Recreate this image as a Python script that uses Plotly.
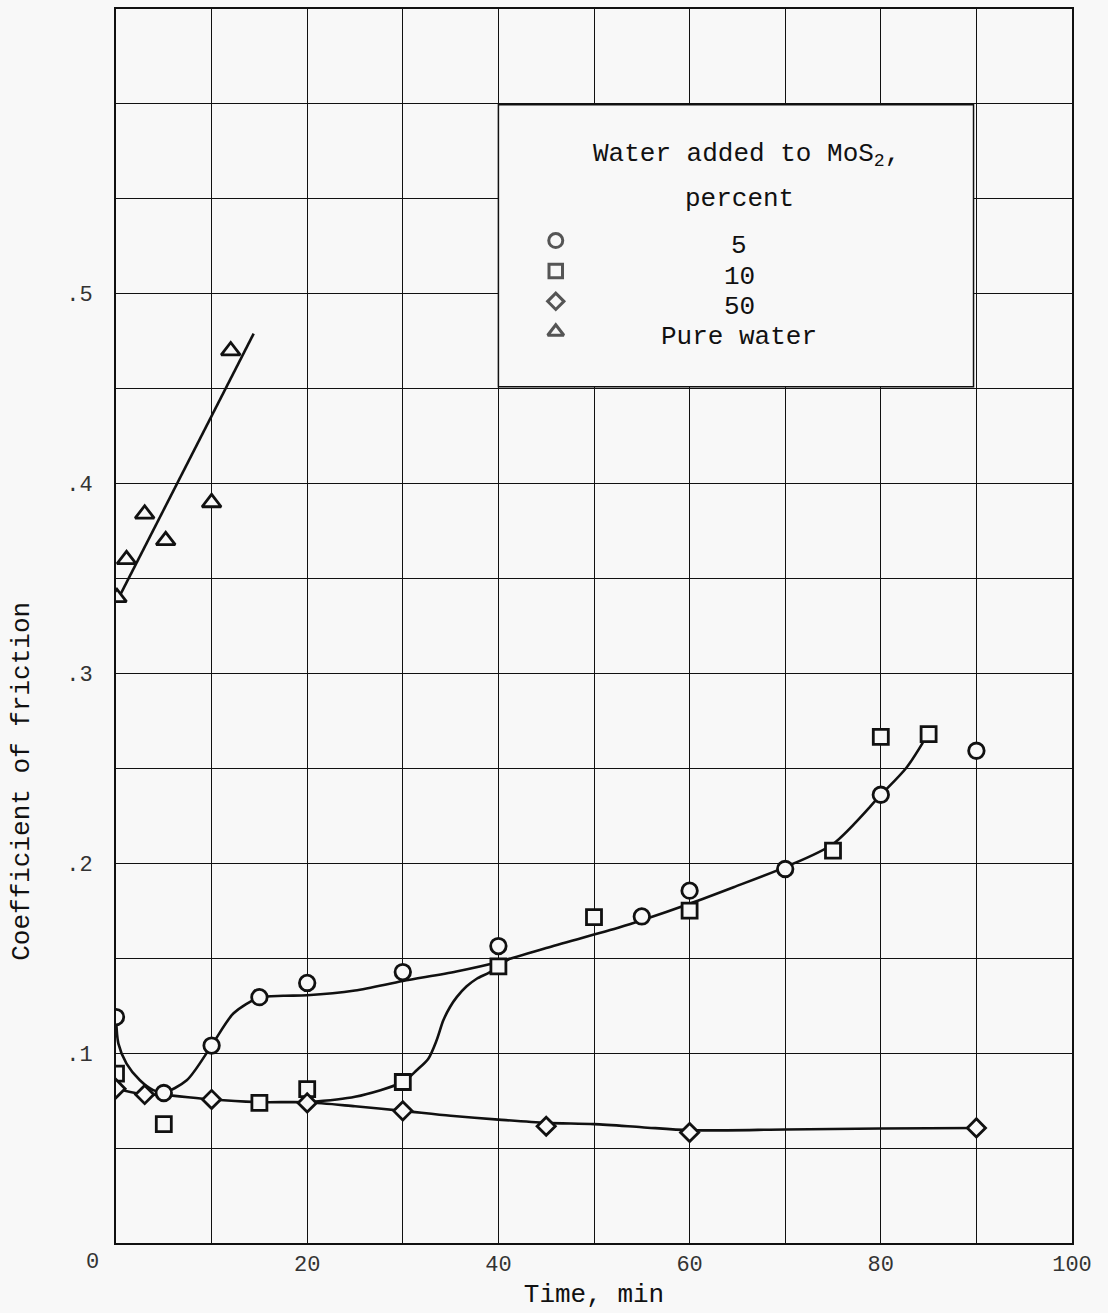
import plotly.graph_objects as go

# ---------------- data ----------------
# measured points: time (min) and coefficient of friction
t5 = [0, 5, 10, 15, 20, 30, 40, 55, 60, 70, 80, 90]
f5 = [0.119, 0.079, 0.104, 0.1295, 0.137, 0.1427, 0.1564, 0.172, 0.1856, 0.197, 0.2361, 0.2593]

t10 = [0, 5, 15, 20, 30, 40, 50, 60, 75, 80, 85]
f10 = [0.0892, 0.0626, 0.0738, 0.081, 0.0848, 0.1457, 0.1716, 0.1751, 0.2067, 0.2666, 0.268]

t50 = [0, 3, 10, 20, 30, 45, 60, 90]
f50 = [0.0813, 0.0782, 0.0756, 0.0738, 0.0696, 0.0615, 0.0582, 0.0606]

tw = [0.1, 1.1, 3.0, 5.2, 10.0, 12.0]
fw = [0.340, 0.360, 0.384, 0.370, 0.390, 0.470]

# faired curves as drawn on the chart
c5_t = [0, 0.25, 1.1, 2.5, 3.9, 5, 7.4, 10, 12.3, 15, 17.5, 20, 25, 30, 35.6, 40, 45,
        52.7, 55, 60, 64.6, 70, 75, 80, 82.7, 84.4]
c5_f = [0.119, 0.105, 0.0945, 0.0857, 0.0805, 0.0793, 0.0857, 0.104, 0.121, 0.1293,
        0.1302, 0.1305, 0.133, 0.138, 0.143, 0.148, 0.1554, 0.1663, 0.170, 0.1787,
        0.1874, 0.198, 0.2102, 0.236, 0.2505, 0.2636]

c10_t = [20, 25, 30, 31.45, 32.67, 33.54, 34.24, 34.94, 35.64, 36.68, 37.73, 39.12, 41.2]
c10_f = [0.0741, 0.077, 0.0848, 0.091, 0.0971, 0.1068, 0.1173, 0.1243, 0.1295, 0.1352,
         0.1392, 0.1427, 0.150]

c50_t = [0, 3, 5, 10, 15, 20, 25, 30, 35, 40, 45, 50, 55, 60, 70, 80, 90]
c50_f = [0.0813, 0.0782, 0.078, 0.0756, 0.0742, 0.0741, 0.072, 0.0696, 0.067, 0.065,
         0.0633, 0.0626, 0.061, 0.0594, 0.0598, 0.0603, 0.0606]

cw_t = [0.2, 14.4]
cw_f = [0.339, 0.479]

series_names = ["5", "10", "50", "Pure water"]
legend_title = "Water added to MoS<sub>2</sub>,"
legend_subtitle = "percent"

x_tickvals = [20, 40, 60, 80, 100]
x_ticktext = ["20", "40", "60", "80", "100"]
y_tickvals = [0.1, 0.2, 0.3, 0.4, 0.5]
y_ticktext = [".1", ".2", ".3", ".4", ".5"]

# ---------------- styling ----------------
BG = "#f8f8f8"
INK = "#111111"
FONT = "Liberation Mono, DejaVu Sans Mono, monospace"
CURVE_W = 2.6
MLINE = 2.8

fig = go.Figure()

# faired curves
for ct, cf, shape in [(c5_t, c5_f, "spline"), (c10_t, c10_f, "spline"),
                      (c50_t, c50_f, "spline"), (cw_t, cw_f, "linear")]:
    fig.add_trace(go.Scatter(
        x=ct, y=cf, mode="lines",
        line=dict(color=INK, width=CURVE_W, shape=shape, smoothing=0.8),
        showlegend=False, hoverinfo="skip"))

# measured points
symbols = ["circle", "square", "diamond", "triangle-up"]
sizes = [15.5, 15, 14, 16.5]
for (tt, ff), sym, sz, nm in zip([(t5, f5), (t10, f10), (t50, f50), (tw, fw)],
                                 symbols, sizes, series_names):
    fig.add_trace(go.Scatter(
        x=tt, y=ff, mode="markers", name=nm,
        marker=dict(symbol=sym, size=sz, color=BG,
                    line=dict(color=INK, width=MLINE)),
        showlegend=False))

# ---------------- hand-drawn style legend ----------------
LEG_X0, LEG_X1, LEG_Y0, LEG_Y1 = 40, 89.7, 0.451, 0.5995
LEG_SYM_X = 46
LEG_TEXT_X = 65.2
LEG_ROWS = [0.528, 0.512, 0.496, 0.480]

fig.add_shape(type="rect", xref="x", yref="y", x0=LEG_X0, x1=LEG_X1, y0=LEG_Y0, y1=LEG_Y1,
              fillcolor=BG, line=dict(color=INK, width=1.5), layer="between")

fig.add_trace(go.Scatter(
    x=[LEG_SYM_X] * 4, y=LEG_ROWS, mode="markers",
    marker=dict(symbol=symbols, size=[14, 13.5, 12.5, 14], color=BG,
                line=dict(color=INK, width=3)),
    showlegend=False, hoverinfo="skip"))

annots = []
annots.append(dict(x=65.9, y=0.5732, xref="x", yref="y", text=legend_title,
                   showarrow=False, font=dict(family=FONT, size=26, color=INK)))
annots.append(dict(x=65.2, y=0.550, xref="x", yref="y", text=legend_subtitle,
                   showarrow=False, font=dict(family=FONT, size=26, color=INK)))
for yy, nm in zip(LEG_ROWS, series_names):
    annots.append(dict(x=LEG_TEXT_X, y=yy - 0.003, xref="x", yref="y", text=nm,
                       showarrow=False, font=dict(family=FONT, size=26, color=INK)))

# corner "0" and the y-axis title (placed below centre, as in the original)
annots.append(dict(x=-0.0251, y=-0.0154, xref="paper", yref="paper", text="0",
                   xanchor="center", yanchor="middle",
                   showarrow=False, font=dict(family=FONT, size=22, color="#333")))
annots.append(dict(x=-0.0983, y=0.3738, xref="paper", yref="paper",
                   text="Coefficient of friction", textangle=-90,
                   xanchor="center", yanchor="middle",
                   showarrow=False, font=dict(family=FONT, size=26, color=INK)))

grid = dict(showgrid=True, gridcolor=INK, gridwidth=1.4)
fig.update_layout(
    width=1108, height=1313,
    margin=dict(l=116, r=36, t=7, b=70),
    paper_bgcolor=BG, plot_bgcolor=BG,
    annotations=annots,
    showlegend=False,
    xaxis=dict(range=[0, 100], tickmode="array", tickvals=x_tickvals, ticktext=x_ticktext,
               zeroline=False, showline=True, linecolor=INK, linewidth=2, mirror=True,
               ticks="", ticklabelstandoff=0,
               title=dict(text="Time, min", standoff=6,
                          font=dict(family=FONT, size=26, color=INK)),
               minor=dict(tick0=0, dtick=10, **grid),
               tickfont=dict(family=FONT, size=22, color="#333"), **grid),
    yaxis=dict(range=[0, 0.65], tickmode="array", tickvals=y_tickvals, ticktext=y_ticktext,
               zeroline=False, showline=True, linecolor=INK, linewidth=2, mirror=True,
               ticks="", ticklabelstandoff=17,
               minor=dict(tick0=0, dtick=0.05, **grid),
               tickfont=dict(family=FONT, size=22, color="#333"), **grid),
)

fig.write_html("out.html")
